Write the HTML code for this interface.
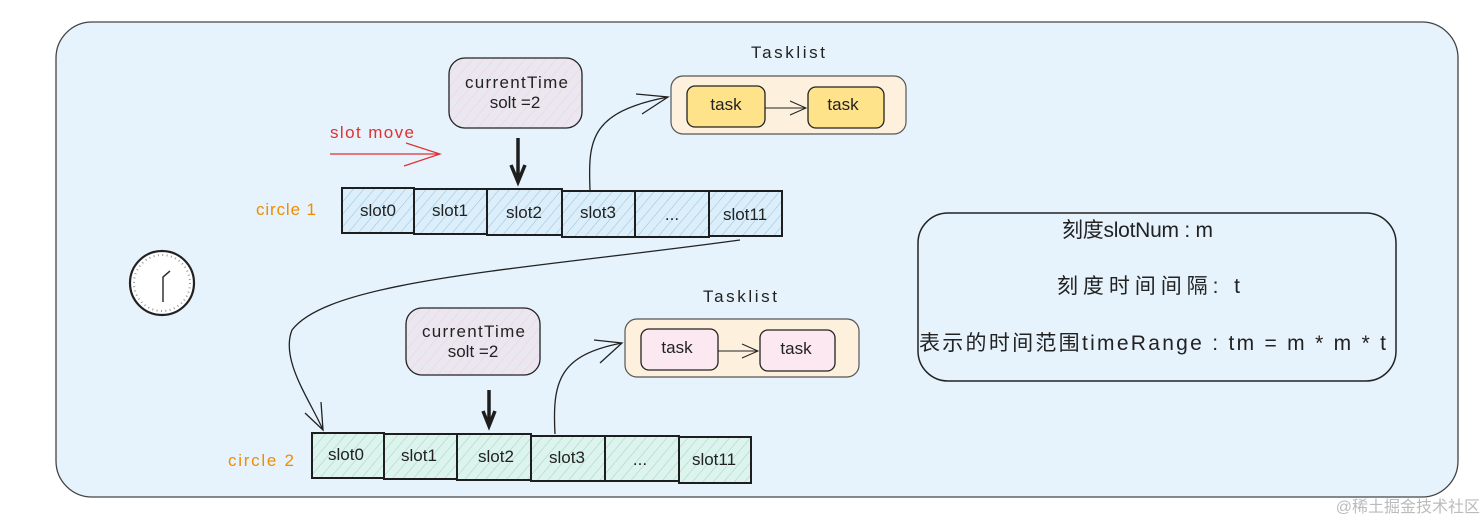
<!DOCTYPE html>
<html><head><meta charset="utf-8"><style>
html,body{margin:0;padding:0;background:#fff;}
svg{display:block}
text{font-family:"Liberation Sans","Noto Sans CJK SC",sans-serif;}
</style></head><body>
<svg width="1484" height="520" viewBox="0 0 1484 520" xmlns="http://www.w3.org/2000/svg">
<defs>
<pattern id="hb" width="8" height="8" patternUnits="userSpaceOnUse" patternTransform="rotate(40)">
<rect width="8" height="8" fill="#dbeefa"/><line x1="0" y1="0" x2="0" y2="8" stroke="#7fb6d9" stroke-width="0.8"/></pattern>
<pattern id="hg" width="8" height="8" patternUnits="userSpaceOnUse" patternTransform="rotate(40)">
<rect width="8" height="8" fill="#dcf3ee"/><line x1="0" y1="0" x2="0" y2="8" stroke="#8fcfa8" stroke-width="0.8"/></pattern>
<pattern id="hp" width="8" height="8" patternUnits="userSpaceOnUse" patternTransform="rotate(40)">
<rect width="8" height="8" fill="#ebe7f0"/><line x1="0" y1="0" x2="0" y2="8" stroke="#f2c8d8" stroke-width="0.8"/></pattern>
</defs>
<rect x="56" y="22" width="1402" height="475" rx="36" fill="#e6f3fc" stroke="#444" stroke-width="1.3"/>
<!-- clock -->
<circle cx="162" cy="283" r="32" fill="#fff" stroke="#222" stroke-width="2.2"/>
<circle cx="162" cy="283" r="28" fill="none" stroke="#999" stroke-width="2" stroke-dasharray="1 3.4"/>
<path d="M163 302 V277 L170 271" fill="none" stroke="#333" stroke-width="1.5"/>
<!-- slot move -->
<text x="330" y="138" font-size="17" fill="#e03131" textLength="84" lengthAdjust="spacing">slot move</text>
<path d="M330 154 H440 M406 143 L440 154 L404 166" fill="none" stroke="#e03131" stroke-width="1.2"/>
<!-- current time 1 -->
<rect x="449" y="58" width="133" height="70" rx="16" fill="url(#hp)" stroke="#222" stroke-width="1.3"/>
<text x="465" y="88" font-size="17" fill="#222" textLength="103" lengthAdjust="spacing">currentTime</text>
<text x="515" y="108" font-size="17" text-anchor="middle" fill="#222">solt =2</text>
<path d="M518 138 V180 M511 165 L518 182 L525 165" fill="none" stroke="#1e1e1e" stroke-width="3.5"/>
<!-- circle 1 -->
<text x="256" y="215" font-size="17" fill="#f08c00" textLength="60" lengthAdjust="spacing">circle 1</text>
<g stroke="#1e1e1e" stroke-width="2" fill="url(#hb)">
<rect x="342" y="188" width="72" height="45"/><rect x="414" y="189" width="73" height="45"/>
<rect x="487" y="189" width="75" height="46"/><rect x="562" y="191" width="73" height="46"/>
<rect x="635" y="191" width="74" height="46"/><rect x="709" y="191" width="73" height="45"/></g>
<g font-size="17" fill="#222" text-anchor="middle">
<text x="378" y="216">slot0</text><text x="450" y="216">slot1</text><text x="524" y="218">slot2</text>
<text x="598" y="218">slot3</text><text x="672" y="220">...</text><text x="745" y="220">slot11</text></g>
<!-- tasklist 1 -->
<path d="M590 190 C588 140 590 112 668 97 M636 94 L668 97 L642 114" fill="none" stroke="#222" stroke-width="1.3"/>
<text x="751" y="58" font-size="17" fill="#222" textLength="74" lengthAdjust="spacing">Tasklist</text>
<rect x="671" y="76" width="235" height="58" rx="12" fill="#fdf0dc" stroke="#555" stroke-width="1.2"/>
<rect x="687" y="86" width="78" height="41" rx="8" fill="#ffe38a" stroke="#222" stroke-width="1.3"/>
<rect x="808" y="87" width="76" height="41" rx="8" fill="#ffe38a" stroke="#222" stroke-width="1.3"/>
<text x="726" y="110" font-size="17" text-anchor="middle" fill="#222">task</text>
<text x="843" y="110" font-size="17" text-anchor="middle" fill="#222">task</text>
<path d="M765 108 H806 M790 101 L806 108 L790 115" fill="none" stroke="#222" stroke-width="1"/>
<!-- long curve -->
<path d="M740 240 C520 270 330 280 292 330 C280 360 310 400 323 430 M305 413 L323 430 L321 402" fill="none" stroke="#222" stroke-width="1.3"/>
<!-- current time 2 -->
<rect x="406" y="308" width="134" height="67" rx="16" fill="url(#hp)" stroke="#222" stroke-width="1.3"/>
<text x="422" y="337" font-size="17" fill="#222" textLength="103" lengthAdjust="spacing">currentTime</text>
<text x="473" y="357" font-size="17" text-anchor="middle" fill="#222">solt =2</text>
<path d="M489 390 V424 M483 411 L489 426 L495 411" fill="none" stroke="#1e1e1e" stroke-width="3.5"/>
<!-- circle 2 -->
<text x="228" y="466" font-size="17" fill="#f08c00" textLength="66" lengthAdjust="spacing">circle 2</text>
<g stroke="#1e1e1e" stroke-width="2" fill="url(#hg)">
<rect x="312" y="433" width="72" height="45"/><rect x="384" y="434" width="73" height="45"/>
<rect x="457" y="434" width="74" height="46"/><rect x="531" y="436" width="74" height="45"/>
<rect x="605" y="436" width="74" height="45"/><rect x="679" y="437" width="72" height="46"/></g>
<g font-size="17" fill="#222" text-anchor="middle">
<text x="346" y="460">slot0</text><text x="419" y="461">slot1</text><text x="496" y="462">slot2</text>
<text x="567" y="463">slot3</text><text x="640" y="465">...</text><text x="714" y="465">slot11</text></g>
<!-- tasklist 2 -->
<path d="M555 434 C552 380 560 355 622 343 M594 340 L622 343 L600 363" fill="none" stroke="#222" stroke-width="1.3"/>
<text x="703" y="302" font-size="17" fill="#222" textLength="74" lengthAdjust="spacing">Tasklist</text>
<rect x="625" y="319" width="234" height="58" rx="12" fill="#fdf0dc" stroke="#555" stroke-width="1.2"/>
<rect x="641" y="329" width="77" height="41" rx="8" fill="#fbe8f0" stroke="#222" stroke-width="1.3"/>
<rect x="760" y="330" width="75" height="41" rx="8" fill="#fbe8f0" stroke="#222" stroke-width="1.3"/>
<text x="677" y="353" font-size="17" text-anchor="middle" fill="#222">task</text>
<text x="796" y="354" font-size="17" text-anchor="middle" fill="#222">task</text>
<path d="M718 351 H758 M742 344 L758 351 L742 358" fill="none" stroke="#222" stroke-width="1"/>
<!-- info box -->
<rect x="918" y="213" width="478" height="168" rx="30" fill="#e6f3fc" stroke="#222" stroke-width="1.5"/>
<g font-size="21" fill="#222">
<text x="1062" y="237" textLength="151" lengthAdjust="spacing">刻度slotNum : m</text>
<text x="1057" y="293" textLength="183" lengthAdjust="spacing">刻度时间间隔:  t</text>
<text x="919" y="350" textLength="467" lengthAdjust="spacing">表示的时间范围timeRange : tm = m * m * t</text></g>
<text x="1480" y="512" font-size="16" text-anchor="end" fill="#bbb">@稀土掘金技术社区</text>
</svg>
</body></html>
